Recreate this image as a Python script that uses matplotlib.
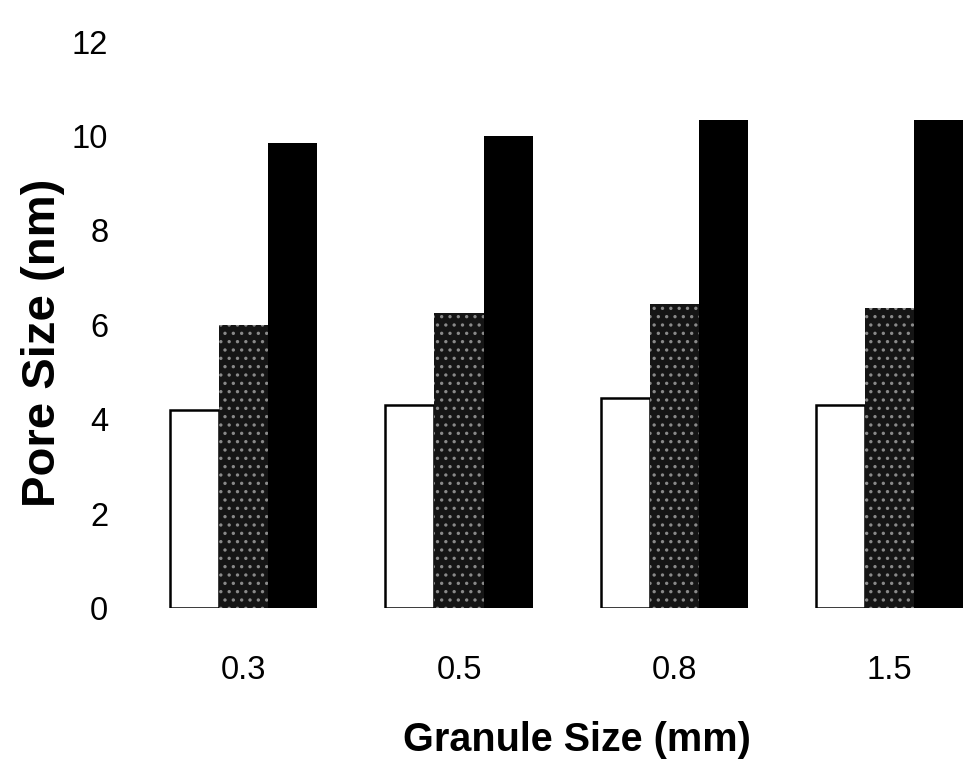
import matplotlib.pyplot as plt
import numpy as np

plt.rcParams['font.family'] = ['Liberation Sans', 'DejaVu Sans']
plt.rcParams['hatch.linewidth'] = 1.2

# data
granule = ['0.3', '0.5', '0.8', '1.5']
pore_a = [4.2, 4.3, 4.45, 4.3]     # white bars
pore_b = [6.0, 6.25, 6.45, 6.35]   # speckled bars
pore_c = [9.85, 10.0, 10.35, 10.35]  # black bars

x = np.arange(len(granule))
w = 0.228

fig = plt.figure(figsize=(9.65, 7.59), dpi=100)
ax = fig.add_axes([0.141, 0.199, 0.859, 0.746])

ax.bar(x - w, pore_a, w, color='white', edgecolor='black', linewidth=1.8)
ax.bar(x, pore_b, w, color='#151515', edgecolor='#8a8a8a', hatch='..', linewidth=0)
ax.bar(x + w, pore_c, w, color='black', linewidth=0)

ax.set_xlim(-0.5, 3.35)
ax.set_ylim(0, 12)
ax.set_yticks([0, 2, 4, 6, 8, 10, 12])
ax.set_xticks(x)
ax.set_xticklabels(granule)
ax.tick_params(length=0, labelsize=23.5)
ax.tick_params(axis='y', pad=20)
ax.tick_params(axis='x', pad=34)
for s in ax.spines.values():
    s.set_visible(False)

ax.set_xlabel('Granule Size (mm)', fontsize=28.5, fontweight='bold')
ax.set_ylabel('Pore Size (nm)', fontsize=34, fontweight='bold')
ax.xaxis.set_label_coords(0.532, -0.2)
ax.yaxis.set_label_coords(-0.086, 0.468)

fig.savefig('out.png', dpi=100)
